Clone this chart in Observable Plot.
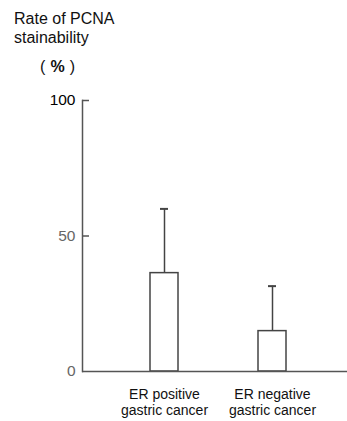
<!DOCTYPE html>
<html><head><meta charset="utf-8">
<script src="https://cdn.jsdelivr.net/npm/d3@7"></script>
<script src="https://cdn.jsdelivr.net/npm/@observablehq/plot@0.6"></script>
<style>
body{margin:0;background:#fff;}
#wrap{position:relative;width:347px;height:421px;font-family:"Liberation Sans",Arial,sans-serif;color:#111;}
#t1{position:absolute;left:14px;top:9px;font-size:16px;line-height:19px;}
#t2{position:absolute;left:40px;top:57px;font-size:16px;line-height:19px;letter-spacing:0.3px;white-space:pre;}
#t2 b{font-weight:bold;}
#chart{position:absolute;left:0;top:0;}
</style></head>
<body><div id="wrap"><div id="chart"></div><div id="t1">Rate of PCNA<br>stainability</div><div id="t2">( <b>%</b> )</div></div>
<script>
const categories = ["ER positive\ngastric cancer", "ER negative\ngastric cancer"];
const means = [36.3, 14.9];
const upper = [60.0, 31.5];
const yTicks = [0, 50, 100];

const data = categories.map((c, i) => ({cat: c, mean: means[i], upper: upper[i]}));

const chart = Plot.plot({
  width: 347, height: 421,
  marginTop: 100, marginBottom: 50, marginLeft: 82, marginRight: 0,
  style: {fontFamily: "Liberation Sans, Arial, sans-serif", background: "transparent"},
  x: {domain: categories, paddingInner: 0.741, paddingOuter: 0.597, align: 0.527, axis: null},
  y: {domain: [0, 100], axis: null},
  marks: [
    Plot.axisY(yTicks, {tickSize: 0, tickPadding: 7, fontSize: 15.5, label: null, fill: d => d === 100 ? "#000" : "#666", fontWeight: d => d === 100 ? "bold" : "normal"}),
    Plot.axisY([50, 100], {text: null, label: null, tickSize: -7, stroke: "#555", strokeWidth: 1.5}),
    Plot.axisX(categories, {tickSize: 0, tickPadding: 17, fontSize: 14, lineHeight: 1.1, label: null, fill: "#111"}),
    Plot.ruleX(data, {x: "cat", y1: "mean", y2: "upper", stroke: "#444", strokeWidth: 1.5}),
    Plot.tickY(data, {x: "cat", y: "upper", insetLeft: 10, insetRight: 10, stroke: "#444", strokeWidth: 2}),
    Plot.barY(data, {x: "cat", y: "mean", fill: "white", stroke: "#444", strokeWidth: 1.5}),
    Plot.frame({anchor: "left", stroke: "#555", strokeWidth: 1.5}),
    Plot.ruleY([0], {stroke: "#555", strokeWidth: 1.5})
  ]
});
document.getElementById("chart").appendChild(chart);
</script>
</body></html>
